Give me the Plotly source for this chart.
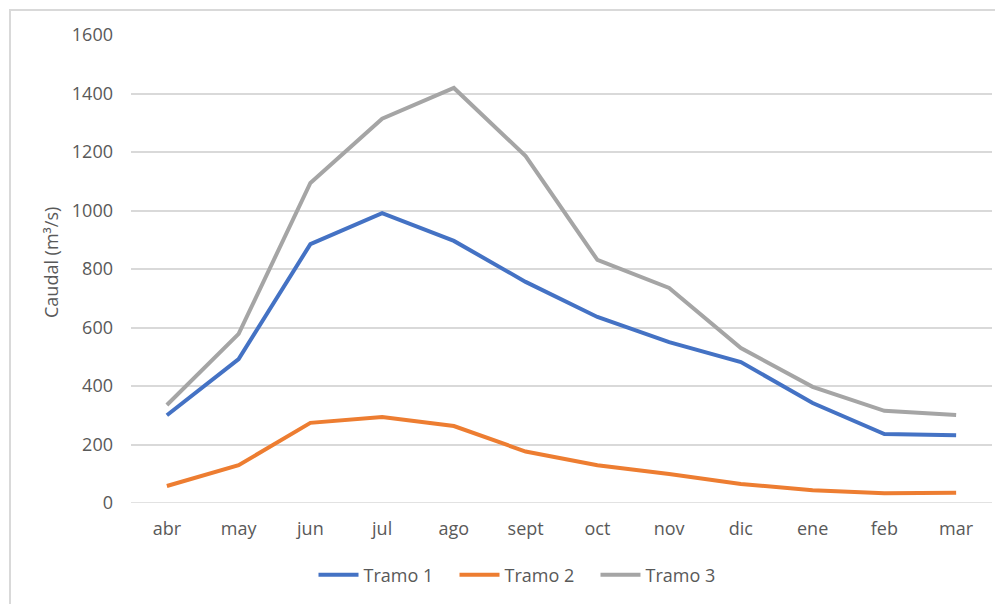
import plotly.graph_objects as go

# Months (hydrological year, Spanish abbreviations)
meses = ['abr', 'may', 'jun', 'jul', 'ago', 'sept', 'oct', 'nov', 'dic', 'ene', 'feb', 'mar']

# Caudal (m3/s)
tramo_1 = [300, 492, 885, 991, 896, 756, 636, 550, 482, 342, 236, 232]
tramo_2 = [58, 129, 274, 294, 263, 176, 129, 99, 65, 44, 33, 35]
tramo_3 = [335, 578, 1094, 1314, 1419, 1186, 831, 735, 530, 397, 315, 301]

series = [
    ('Tramo 1', tramo_1, '#4472C4'),
    ('Tramo 2', tramo_2, '#ED7D31'),
    ('Tramo 3', tramo_3, '#A5A5A5'),
]

font_family = '"Open Sans", sans-serif'
text_color = '#595959'
fs = 18

fig = go.Figure()
for name, values, color in series:
    fig.add_trace(go.Scatter(
        x=meses,
        y=values,
        mode='lines',
        name=name,
        line=dict(color=color, width=4),
    ))

# page has an 8px body margin, so figure coords = screen coords - 8
W, H = 1003, 604
off = 8
left, right, top, bottom = 131 - off, W - (992 - off), 35 - off, H - (503 - off)
pw = W - left - right
ph = H - top - bottom

def px_to_paper_x(px):
    return (px - off - left) / pw

def px_to_paper_y(py):
    return (H - bottom - (py - off)) / ph

fig.update_layout(
    width=W,
    height=H,
    margin=dict(l=left, r=right, t=top, b=bottom),
    paper_bgcolor='white',
    plot_bgcolor='white',
    font=dict(family=font_family, size=fs, color=text_color),
    showlegend=True,
    legend=dict(
        orientation='h',
        x=px_to_paper_x(525),
        xanchor='center',
        y=px_to_paper_y(575),
        yanchor='middle',
        font=dict(size=fs, color=text_color),
        itemwidth=40,
        entrywidth=86,
        traceorder='normal',
    ),
    xaxis=dict(
        showgrid=False,
        showline=False,
        zeroline=False,
        ticks='',
        tickfont=dict(size=fs, color=text_color),
        ticklabelstandoff=13,
        range=[-0.5, len(meses) - 0.5],
        fixedrange=True,
    ),
    yaxis=dict(
        range=[0, 1600],
        dtick=200,
        showgrid=True,
        gridcolor='#D9D9D9',
        gridwidth=1.5,
        zeroline=False,
        showline=False,
        ticks='',
        tickfont=dict(size=fs, color=text_color),
        ticklabelstandoff=17,
    ),
    annotations=[
        dict(text='Caudal (m³/s)', textangle=-90, showarrow=False,
             xref='paper', yref='paper',
             x=px_to_paper_x(51), y=px_to_paper_y(263),
             xanchor='center', yanchor='middle',
             font=dict(size=fs, color=text_color)),
    ],
    shapes=[
        # zero line of the value axis
        dict(type='line', xref='paper', yref='y', x0=0, x1=1, y0=0, y1=0,
             line=dict(color='#D9D9D9', width=1.5), layer='below'),
        # chart area border
        dict(type='rect', xref='paper', yref='paper',
             x0=px_to_paper_x(10), x1=px_to_paper_x(1020),
             y0=px_to_paper_y(620), y1=px_to_paper_y(10),
             line=dict(color='#D9D9D9', width=2), layer='below'),
    ],
)

fig.write_html("out.html")
